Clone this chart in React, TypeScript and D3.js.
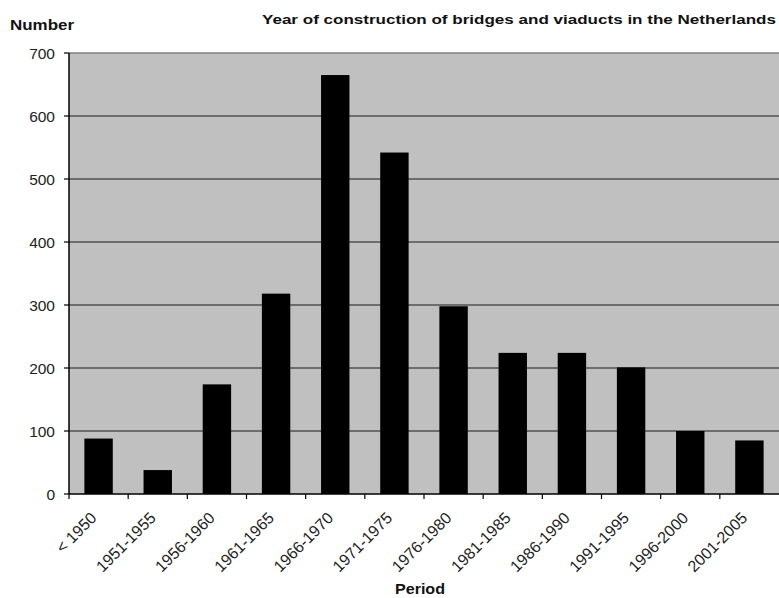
import React from "react";
import * as d3 from "d3";

const categories = [
  "< 1950", "1951-1955", "1956-1960", "1961-1965", "1966-1970", "1971-1975",
  "1976-1980", "1981-1985", "1986-1990", "1991-1995", "1996-2000", "2001-2005",
];
const counts = [88, 38, 174, 318, 665, 542, 298, 224, 224, 201, 100, 85];
const yTicks = [0, 100, 200, 300, 400, 500, 600, 700];
const titleText = "Year of construction of bridges and viaducts in the Netherlands";
const yTitle = "Number";
const xTitle = "Period";

const W = 779;
const H = 598;
const left = 69;
const right = 779;
const top = 53;
const bottom = 494;
const FONT = "'Liberation Sans', Arial, sans-serif";

export default function App() {
  const x = d3.scaleBand<string>().domain(categories).range([left, right]).paddingInner(0.52).paddingOuter(0.26);
  const xb = d3.scaleBand<string>().domain(categories).range([left, right]);
  const y = d3.scaleLinear().domain([0, 700]).range([bottom, top]);

  return (
    <svg
      width={W}
      height={H}
      style={{ position: "absolute", left: 0, top: 0, background: "#fff" }}
      fontFamily={FONT}
    >
      <rect x={left} y={top} width={right - left} height={bottom - top} fill="#c0c0c0" />
      {yTicks.map((t) => (
        <g key={t}>
          {t > 0 && (
            <line
              x1={left}
              x2={right}
              y1={y(t)}
              y2={y(t)}
              stroke={t === 700 ? "#808080" : "#1a1a1a"}
              strokeWidth={t === 700 ? 1.5 : 1.2}
            />
          )}
          <line x1={left - 5} x2={left} y1={y(t)} y2={y(t)} stroke="#000" strokeWidth={1.2} />
          <text x={55} y={y(t)} dy="0.36em" textAnchor="end" fontSize={15.5} fill="#222">
            {t}
          </text>
        </g>
      ))}
      {categories.map((c, i) => (
        <rect key={c} x={x(c)} y={y(counts[i])} width={x.bandwidth()} height={bottom - y(counts[i])} fill="#000" />
      ))}
      <line x1={left} x2={left} y1={top} y2={bottom} stroke="#000" strokeWidth={1.5} />
      <line x1={left} x2={right} y1={bottom} y2={bottom} stroke="#000" strokeWidth={1.5} />
      {categories.map((c) => (
        <line
          key={"t" + c}
          x1={xb(c) as number}
          x2={xb(c) as number}
          y1={bottom}
          y2={bottom + 5}
          stroke="#000"
          strokeWidth={1.2}
        />
      ))}
      {categories.map((c) => {
        const cx = (xb(c) as number) + xb.bandwidth() / 2 - 1;
        const cy = 519;
        return (
          <text
            key={"l" + c}
            x={cx}
            y={cy}
            textAnchor="end"
            fontSize={16}
            fill="#222"
            transform={`rotate(-45, ${cx}, ${cy})`}
          >
            {c}
          </text>
        );
      })}
      <text x={10} y={30} fontSize={14} fontWeight="bold" fill="#111" textLength={64} lengthAdjust="spacingAndGlyphs">
        {yTitle}
      </text>
      <text x={262} y={24} fontSize={13.5} fontWeight="bold" fill="#111" textLength={514} lengthAdjust="spacingAndGlyphs">
        {titleText}
      </text>
      <text x={395} y={594} fontSize={14} fontWeight="bold" fill="#111" textLength={50} lengthAdjust="spacingAndGlyphs">
        {xTitle}
      </text>
    </svg>
  );
}
